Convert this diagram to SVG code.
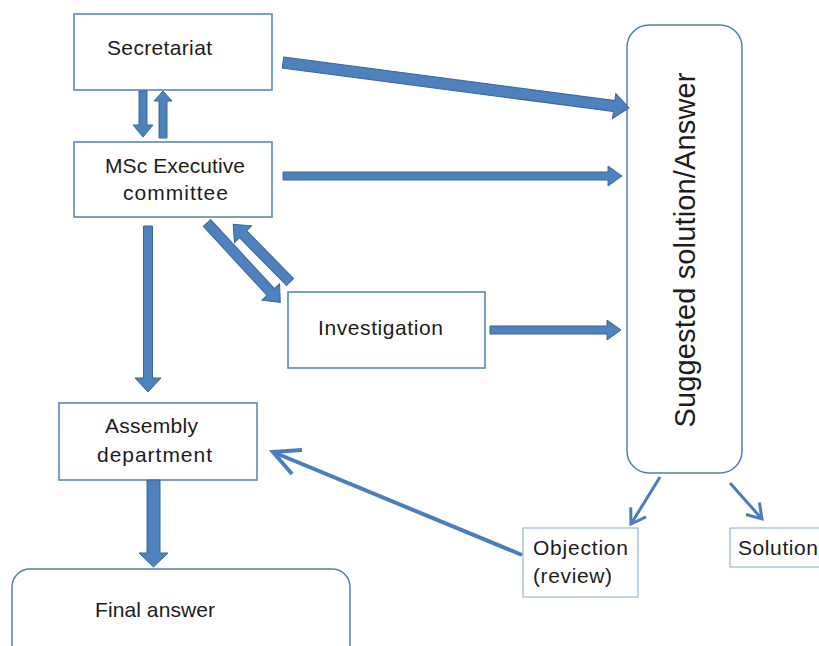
<svg xmlns="http://www.w3.org/2000/svg" width="819" height="646" viewBox="0 0 819 646">
<style>
.box{fill:#fff;stroke:#4f7fb8;stroke-width:1.5}
.sbox{fill:#fff;stroke:#86a6d2;stroke-width:1}
.t{font-family:"Liberation Sans",Arial,sans-serif;font-size:21px;fill:#1c1c1c}
.blk{fill:#4f81bd;stroke:#3a659a;stroke-width:1}
.thin{fill:none;stroke:#4a7ebb;stroke-width:3}
.thick{fill:none;stroke:#4a7ebb;stroke-width:4}
</style>
<defs>
<marker id="m1" markerUnits="userSpaceOnUse" orient="auto" refX="0" refY="0" markerWidth="40" markerHeight="40" overflow="visible">
<path d="M -14,-9 L 0,0 L -14,9" fill="none" stroke="#4a7ebb" stroke-width="3"/>
</marker>
<marker id="m2" markerUnits="userSpaceOnUse" orient="auto" refX="0" refY="0" markerWidth="60" markerHeight="60" overflow="visible">
<path d="M -26,-13 L 0,0 L -26,13" fill="none" stroke="#4a7ebb" stroke-width="4"/>
</marker>
</defs>

<g id="secretariat">
<rect class="box" x="74" y="14" width="198" height="76"/>
<text class="t" x="107" y="55" textLength="105">Secretariat</text>
</g>
<g id="msc">
<rect class="box" x="74" y="142" width="198" height="75"/>
<text class="t" x="105" y="173" textLength="140">MSc Executive</text>
<text class="t" x="123" y="200" textLength="105">committee</text>
</g>
<g id="investigation">
<rect class="box" x="288" y="292" width="197" height="76"/>
<text class="t" x="318" y="335" textLength="125">Investigation</text>
</g>
<g id="assembly">
<rect class="box" x="59" y="403" width="198" height="77"/>
<text class="t" x="105" y="433" textLength="93">Assembly</text>
<text class="t" x="97" y="462" textLength="115">department</text>
</g>
<g id="final">
<rect class="box" x="12" y="569" width="338" height="100" rx="18" ry="18"/>
<text class="t" x="95" y="617" textLength="120">Final answer</text>
</g>
<g id="suggested">
<rect class="box" x="627" y="25" width="115" height="448" rx="22" ry="22"/>
<text class="t" style="font-size:29px" transform="translate(695,250) rotate(-90)" text-anchor="middle" textLength="355">Suggested solution/Answer</text>
</g>
<g id="objection">
<rect class="sbox" x="523" y="528" width="115" height="69"/>
<text class="t" x="533" y="555" textLength="95">Objection</text>
<text class="t" x="533" y="583" textLength="79">(review)</text>
</g>
<g id="solution">
<rect class="sbox" x="730" y="528" width="95" height="39"/>
<text class="t" x="738" y="555" textLength="80">Solution</text>
</g>

<g id="connectors">
<polygon class="blk" transform="translate(283,62.5) rotate(7.49)" points="0,-5.5 334,-5.5 334,-12.5 349,0 334,12.5 334,5.5 0,5.5"/>
<polygon class="blk" points="283,172 608,172 608,166 622,176 608,186 608,180 283,180"/>
<polygon class="blk" points="490,326 607,326 607,320 621,330 607,340 607,334 490,334"/>
<polygon class="blk" points="139,91 147,91 147,125 153,125 143,137 133,125 139,125"/>
<polygon class="blk" points="159,138 167,138 167,101 172,101 163,91 154,101 159,101"/>
<polygon class="blk" points="143.5,226 152.5,226 152.5,378 161,378 148,392 135,378 143.5,378"/>
<polygon class="blk" points="147,480 160,480 160,553 168,553 153.5,567 139,553 147,553"/>
<polygon class="blk" transform="translate(207,223) rotate(47.3)" points="0,-5 94,-5 94,-12 108,0 94,12 94,5 0,5"/>
<polygon class="blk" transform="translate(290,282) rotate(225.5)" points="0,-5 67,-5 67,-12 81,0 67,12 67,5 0,5"/>
<line class="thin" x1="660" y1="477" x2="631" y2="524" marker-end="url(#m1)"/>
<line class="thin" x1="730" y1="483" x2="762" y2="519" marker-end="url(#m1)"/>
<line class="thick" x1="522" y1="555" x2="273" y2="452" marker-end="url(#m2)"/>
</g>
</svg>
